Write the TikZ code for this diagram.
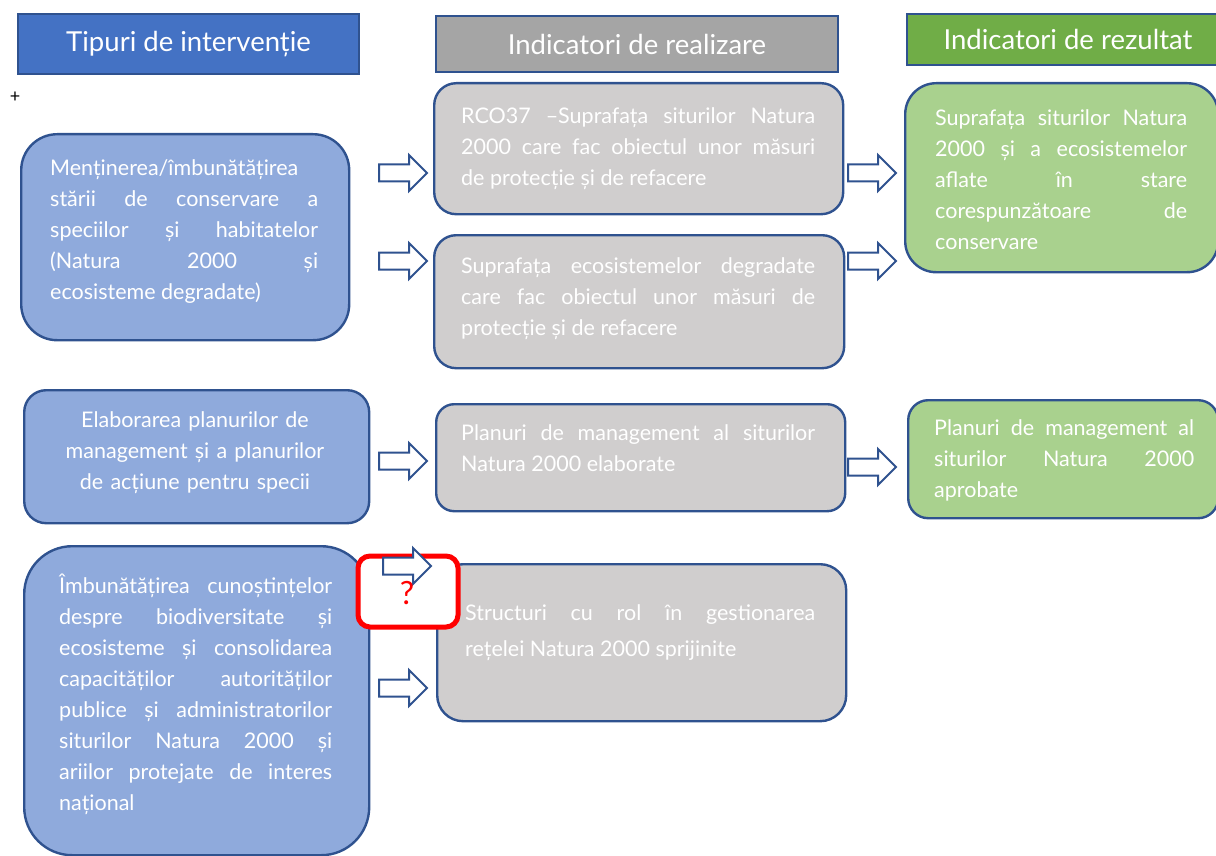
\documentclass[tikz,border=0pt]{standalone}
\usepackage{fontspec}
\setmainfont{Lato}
\setlength\parindent{0pt}
\definecolor{bord}{HTML}{2F528F}
\definecolor{hblue}{HTML}{4472C4}
\definecolor{hgray}{HTML}{A5A5A5}
\definecolor{hgreen}{HTML}{70AD47}
\definecolor{lblue}{HTML}{8FAADC}
\definecolor{lgray}{HTML}{D0CECE}
\definecolor{lgreen}{HTML}{A9D18E}
\newcommand\J{\linebreak}
\newcommand\fl{\rule{0pt}{22pt}}
\newcommand\jset{\tolerance=10000 \hyphenpenalty=10000 \hbadness=10000 \emergencystretch=0pt }
\begin{document}
\begin{tikzpicture}[x=1pt,y=-1pt,
  hdr/.style={draw=bord, line width=2pt, anchor=north west, inner sep=0, text=white, font=\fontsize{27.5}{32}\selectfont},
  box/.style={draw=bord, line width=2.4pt, anchor=north west, inner sep=0},
  bbox/.style={box, fill=lblue},
  gbox/.style={box, fill=lgray},
  rbox/.style={box, fill=lgreen},
  txt/.style={inner sep=0, text=white, align=justify, anchor=north west, font=\fontsize{21.5}{31}\selectfont\jset},
  arrline/.style={draw=bord, line width=2pt, fill=white, line join=miter},
  barr/.pic={\draw[arrline] (0,-8.5) -- (30,-8.5) -- (30,-18) -- (48,0) -- (30,18) -- (30,8.5) -- (0,8.5) -- cycle;}
]
\useasboundingbox (0,0) rectangle (1216,856);
\clip (0,0) rectangle (1216,856);
% headers
\node[hdr, fill=hblue, minimum width=341, minimum height=60] (h1) at (17,13) {Tipuri de intervenție};
\node[hdr, fill=hgray, minimum width=402, minimum height=56] (h2) at (435,15) {Indicatori de realizare};
\node[hdr, fill=hgreen, minimum width=322, minimum height=51] (h3) at (906,13) {Indicatori de rezultat};
\node[inner sep=0, font=\fontsize{18}{18}\selectfont] (plus) at (15,97) {+};
% intervention boxes
\node[bbox, rounded corners=36, minimum width=328, minimum height=206] (b1) at (20,133) {};
\node[bbox, rounded corners=22, minimum width=345, minimum height=133] (b2) at (23,389) {};
\node[bbox, rounded corners=48, minimum width=345, minimum height=309] (b3) at (23,545) {};
% output boxes
\node[gbox, rounded corners=22, minimum width=409, minimum height=131] (g1) at (433,82) {};
\node[gbox, rounded corners=22, minimum width=410, minimum height=133] (g2) at (433,234) {};
\node[gbox, rounded corners=18, minimum width=409, minimum height=107] (g3) at (435,403) {};
\node[gbox, rounded corners=26, minimum width=409, minimum height=157] (g4) at (436,563) {};
% result boxes
\node[rbox, rounded corners=31, minimum width=313, minimum height=189] (r1) at (904,82) {};
\node[rbox, rounded corners=20, minimum width=310, minimum height=118] (r2) at (907,399) {};
% texts
\node[txt, text width=268] (b1t) at (50,153) {\fl Menținerea/îmbunătățirea\J
stării de conservare a\J
speciilor și habitatelor\J
(Natura 2000 și\J
ecosisteme degradate)};
\node[txt, text width=330, align=center, anchor=north] (b2t) at (195,405) {\fl Elaborarea planurilor de\\management și a planurilor\\de acțiune pentru specii};
\node[txt, text width=273] (b3t) at (59,571) {\fl Îmbunătățirea cunoștințelor\J
despre biodiversitate și\J
ecosisteme și consolidarea\J
capacităților autorităților\J
publice și administratorilor\J
siturilor Natura 2000 și\J
ariilor protejate de interes\J
național};
\node[txt, text width=354] (g1t) at (461,101) {\fl RCO37 –Suprafața siturilor Natura\J
2000 care fac obiectul unor măsuri\J
de protecție și de refacere};
\node[txt, text width=354] (g2t) at (461,251) {\fl Suprafața ecosistemelor degradate\J
care fac obiectul unor măsuri de\J
protecție și de refacere};
\node[txt, text width=354] (g3t) at (461,418) {\fl Planuri de management al siturilor\J
Natura 2000 elaborate};
\node[txt, text width=350, font=\fontsize{21.5}{36}\selectfont\jset] (g4t) at (465,598) {\fl Structuri cu rol în gestionarea\J
rețelei Natura 2000 sprijinite};
\node[txt, text width=252] (r1t) at (935,103) {\fl Suprafața siturilor Natura\J
2000 și a ecosistemelor\J
aflate în stare\J
corespunzătoare de\J
conservare};
\node[txt, text width=260] (r2t) at (934,413) {\fl Planuri de management al\J
siturilor Natura 2000\J
aprobate};
% block arrows
\pic at (379,173) {barr};
\pic at (379,261) {barr};
\pic at (848,173) {barr};
\pic at (848,261) {barr};
\pic at (379,461) {barr};
\pic at (848,467) {barr};
\pic at (379,688) {barr};
% red marker
\node[draw=red, line width=5pt, rounded corners=12, fill=white, anchor=north west, inner sep=0, minimum width=100, minimum height=71] (mark) at (355.5,553.5) {};
\pic at (383,566) {barr};
\node[inner sep=0, text=red, font=\fontsize{32}{32}\selectfont] (q) at (407,593) {?};
\end{tikzpicture}
\end{document}
